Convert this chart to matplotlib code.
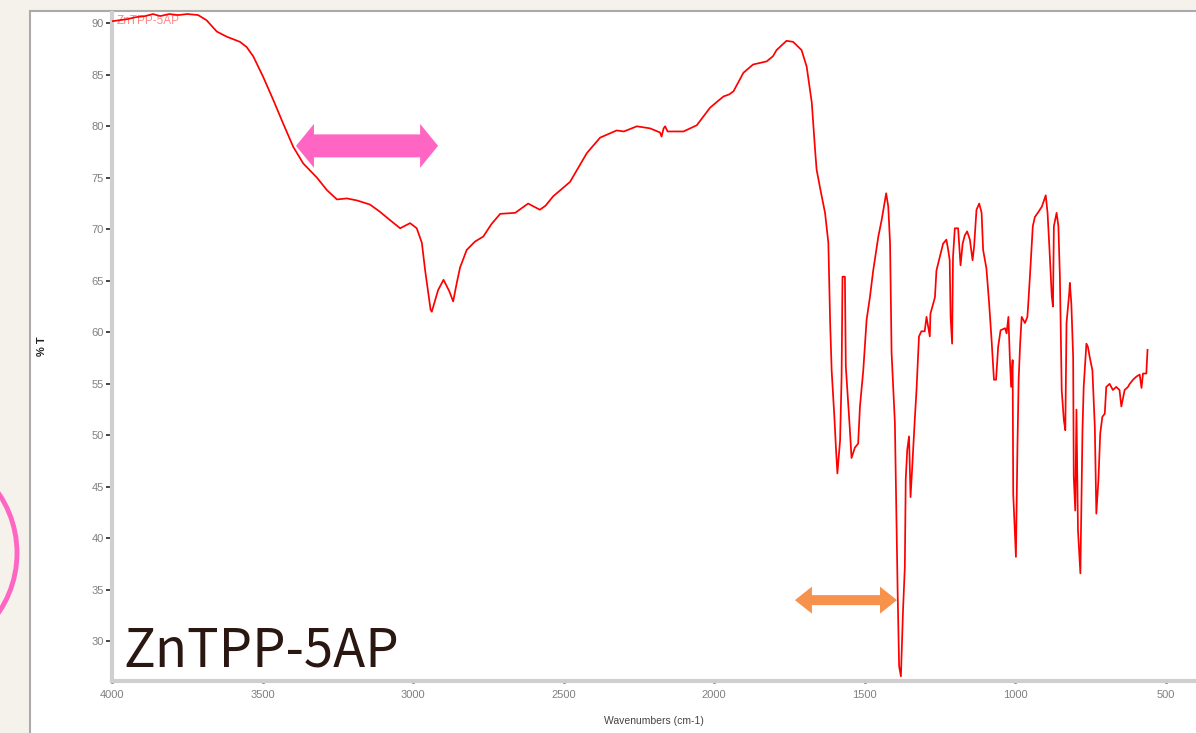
import matplotlib
matplotlib.use("Agg")
import matplotlib.pyplot as plt
from matplotlib.patches import Rectangle, Ellipse, Polygon
from matplotlib.ticker import MultipleLocator

# FT-IR spectrum, ZnTPP-5AP (wavenumber in cm-1, transmittance in %)
WAVENUMBER = [
    4000, 3975, 3950, 3920, 3890, 3864, 3840, 3810, 3780, 3750, 3714, 3686,
    3652, 3619, 3575, 3553, 3531, 3498, 3465, 3432, 3398, 3365, 3319, 3286,
    3253, 3220, 3186, 3143, 3110, 3077, 3043, 3010, 2988, 2971, 2960, 2942,
    2938, 2927, 2917, 2899, 2880, 2867, 2855, 2844, 2822, 2795, 2767, 2740,
    2711, 2661, 2618, 2579, 2560, 2535, 2479, 2423, 2379, 2324, 2300, 2257,
    2213, 2180, 2175, 2168, 2163, 2155, 2102, 2058, 2014, 1990, 1969, 1950,
    1936, 1903, 1871, 1826, 1805, 1793, 1760, 1738, 1710, 1693, 1676, 1665,
    1660, 1647, 1632, 1621, 1615, 1610, 1601, 1596, 1591, 1582, 1577, 1574,
    1566, 1563, 1555, 1550, 1544, 1533, 1522, 1516, 1505, 1494, 1483, 1472,
    1455, 1444, 1429, 1422, 1416, 1411, 1400, 1394, 1391, 1386, 1380, 1373,
    1367, 1364, 1359, 1353, 1348, 1343, 1334, 1328, 1320, 1312, 1301, 1295,
    1284, 1282, 1267, 1262, 1251, 1240, 1229, 1223, 1218, 1215, 1210, 1207,
    1201, 1190, 1182, 1175, 1168, 1160, 1151, 1142, 1137, 1129, 1120, 1112,
    1107, 1096, 1087, 1079, 1071, 1064, 1057, 1049, 1034, 1029, 1023, 1018,
    1014, 1009, 1007, 998, 993, 989, 984, 979, 968, 960, 957, 951,
    942, 935, 923, 912, 899, 893, 887, 879, 875, 872, 863, 857,
    852, 846, 839, 834, 830, 821, 819, 814, 808, 806, 801, 797,
    792, 784, 777, 773, 764, 759, 753, 744, 736, 731, 724, 718,
    711, 703, 698, 687, 676, 665, 654, 648, 637, 626, 620, 609,
    598, 587, 581, 576, 565, 561,
]
TRANSMITTANCE = [
    90.2, 90.3, 90.4, 90.6, 90.7, 90.9, 90.7, 90.9, 90.8, 90.9, 90.8, 90.3,
    89.2, 88.7, 88.2, 87.7, 86.8, 84.8, 82.6, 80.3, 78.0, 76.4, 75.0, 73.8,
    72.9, 73.0, 72.8, 72.4, 71.7, 70.9, 70.1, 70.6, 70.1, 68.7, 66.0, 62.2,
    62.0, 63.1, 64.1, 65.1, 64.0, 63.0, 64.8, 66.3, 68.0, 68.8, 69.3, 70.5,
    71.5, 71.6, 72.5, 71.9, 72.3, 73.2, 74.6, 77.4, 78.9, 79.6, 79.5, 80.0,
    79.8, 79.4, 79.0, 79.8, 80.0, 79.5, 79.5, 80.1, 81.8, 82.4, 82.9, 83.1,
    83.4, 85.2, 86.0, 86.3, 86.8, 87.4, 88.3, 88.2, 87.4, 85.8, 82.3, 77.7,
    75.8, 73.8, 71.6, 68.7, 60.9, 56.3, 51.8, 48.9, 46.3, 49.5, 55.7, 65.4,
    65.4, 56.7, 53.1, 50.8, 47.8, 48.8, 49.2, 52.8, 56.3, 61.2, 63.4, 66.0,
    69.3, 70.9, 73.5, 72.2, 68.6, 58.0, 51.2, 40.5, 35.0, 27.6, 26.6, 33.0,
    37.2, 45.7, 48.6, 49.9, 44.0, 46.6, 51.5, 54.5, 59.6, 60.1, 60.1, 61.5,
    59.6, 61.8, 63.4, 66.0, 67.3, 68.6, 69.0, 68.0, 67.0, 61.5, 58.9, 67.3,
    70.1, 70.1, 66.5, 68.6, 69.4, 69.8, 69.0, 67.0, 68.3, 71.9, 72.5, 71.6,
    68.0, 66.2, 62.8, 59.3, 55.4, 55.4, 58.6, 60.2, 60.4, 59.9, 61.5, 57.3,
    54.7, 57.3, 44.3, 38.2, 48.9, 55.4, 58.9, 61.5, 60.9, 61.5, 62.8, 65.7,
    70.3, 71.2, 71.7, 72.2, 73.3, 71.6, 68.3, 63.5, 62.5, 70.3, 71.6, 70.3,
    65.4, 54.4, 51.5, 50.5, 60.9, 63.8, 64.8, 62.8, 57.6, 46.0, 42.7, 52.5,
    40.8, 36.6, 50.5, 54.7, 58.9, 58.6, 57.6, 56.3, 50.8, 42.4, 45.7, 50.2,
    51.8, 52.1, 54.7, 55.0, 54.4, 54.7, 54.4, 52.8, 54.4, 54.7, 55.0, 55.4,
    55.7, 55.9, 54.6, 56.0, 56.0, 58.3,
]
SAMPLE = "ZnTPP-5AP"

W, H = 1196, 733
BG = "#f5f1eb"


def double_arrow(ax, w_from, w_to, t, shaft, head, head_len, color):
    """Fat two-headed arrow; position in data units, sizes in pixels."""
    (x0, y), (x1, _) = ax.transData.transform([(w_from, t), (w_to, t)])
    hs, hh = shaft / 2, head / 2
    verts = [
        (x0, y), (x0 + head_len, y + hh), (x0 + head_len, y + hs),
        (x1 - head_len, y + hs), (x1 - head_len, y + hh), (x1, y),
        (x1 - head_len, y - hh), (x1 - head_len, y - hs),
        (x0 + head_len, y - hs), (x0 + head_len, y - hh),
    ]
    ax.add_patch(Polygon(verts, closed=True, transform=None, facecolor=color,
                         edgecolor="none", clip_on=False, zorder=5))


plt.rcParams["font.family"] = ["Liberation Sans", "DejaVu Sans"]
fig = plt.figure(figsize=(W / 100, H / 100), dpi=100, facecolor=BG)

# white report panel with a grey frame
fig.patches.append(Rectangle((30 / W, -0.1), 1.2, 1.1 - 11 / H,
                             transform=fig.transFigure, facecolor="white",
                             edgecolor="#aaaaaa", lw=1.5, zorder=-5))
# pink ring peeking in from the left margin
fig.patches.append(Ellipse((-89 / W, 1 - 553 / H), 212 / W, 212 / H,
                           transform=fig.transFigure, facecolor="none",
                           edgecolor="#ff66c4", lw=3.5, zorder=-4))

ax = fig.add_axes([112 / W, (H - 681) / H, (W - 112) / W, (681 - 13) / H])
ax.set_facecolor("none")
ax.plot(WAVENUMBER, TRANSMITTANCE, color="#ff0000", lw=1.25, zorder=4)

ax.set_xlim(4000, 400)
ax.set_ylim(26.15, 91.0)

for side in ("top", "right"):
    ax.spines[side].set_visible(False)
for side in ("left", "bottom"):
    ax.spines[side].set_color("#cfcfcf")
    ax.spines[side].set_linewidth(3.0)

ax.xaxis.set_major_locator(MultipleLocator(500))
ax.xaxis.set_minor_locator(MultipleLocator(100))
ax.yaxis.set_major_locator(MultipleLocator(5))
ax.yaxis.set_minor_locator(MultipleLocator(1))
ax.tick_params(axis="y", which="major", direction="out", length=4, width=1.2,
               color="#222222", labelsize=8, labelcolor="#808080", pad=2)
ax.tick_params(axis="x", which="major", direction="inout", length=2.5,
               width=1.8, color="#222222", labelsize=8, labelcolor="#808080",
               pad=5)
ax.tick_params(which="minor", direction="inout", length=1.8, width=1.4,
               color="#333333")

ax.set_xlabel("Wavenumbers (cm-1)", fontsize=7.5, color="#444444", labelpad=12)
fig.text(42 / W, 1 - 346 / H, "% T", rotation=90, ha="center", va="center",
         fontsize=8, fontweight="bold", color="#222222")

# trace name in the plot corner
ax.text(3985, 90.2, SAMPLE, fontsize=8.5, color="#ff5555", alpha=0.7,
        ha="left", va="center", zorder=3)

# band markers
double_arrow(ax, 3389, 2917, 78.1, 23, 44, 18, "#ff66c4")
double_arrow(ax, 1732, 1393, 34.0, 10, 27, 17, "#f7924c")

ax.text(3963, 27.6, SAMPLE, fontsize=38, color="#2a1712",
        family=["Noto Sans CJK JP", "DejaVu Sans"], ha="left", va="baseline")

fig.savefig("out.png", dpi=100, facecolor=BG)
